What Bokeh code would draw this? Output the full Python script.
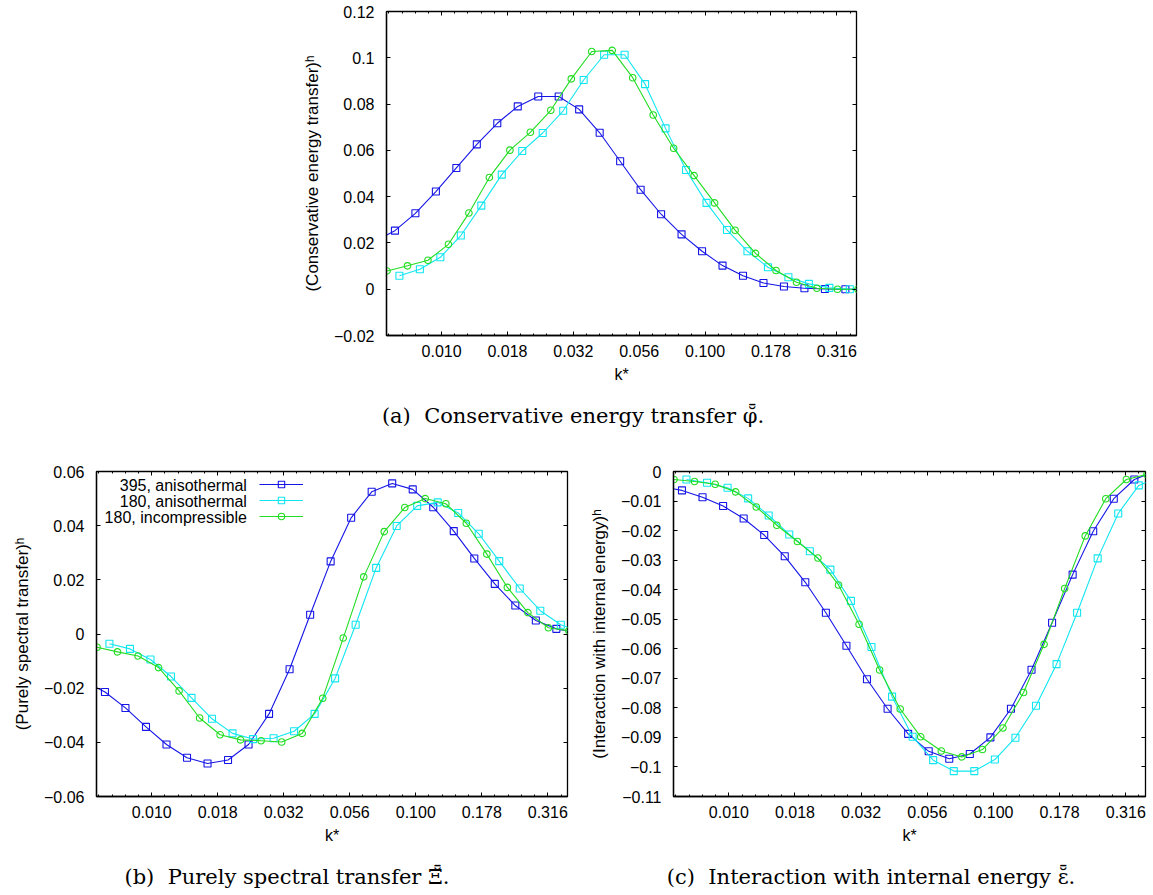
import numpy as np
from bokeh.plotting import figure
from bokeh.models import (FixedTicker, CustomJSTickFormatter, LogAxis, LinearAxis,
                          Range1d, Legend, LegendItem, Div, Label, CustomLabelingPolicy)
from bokeh.layouts import column, row
from bokeh.embed import file_html
from bokeh.resources import INLINE

# ---------------- data ----------------
k_395 = [0.005563, 0.006653, 0.007955, 0.009515, 0.011378, 0.013607, 0.016272, 0.019458,
         0.023270, 0.027826, 0.033276, 0.039811, 0.047608, 0.056931, 0.068081, 0.081414,
         0.097387, 0.116468, 0.139280, 0.166570, 0.199190, 0.238232, 0.284905, 0.340721,
         0.407445]
k_180a = [0.006918, 0.008273, 0.009894, 0.011832, 0.014150, 0.016922, 0.020237, 0.024201,
          0.028942, 0.034612, 0.041392, 0.049501, 0.059198, 0.070795, 0.084664, 0.101250,
          0.121085, 0.144806, 0.173173, 0.207098, 0.247669, 0.296188, 0.354212, 0.423602]
k_180i = [0.006209, 0.007425, 0.008880, 0.010619, 0.012700, 0.015188, 0.018163, 0.021721,
          0.025976, 0.031065, 0.037150, 0.044428, 0.053132, 0.063540, 0.075987, 0.090874,
          0.108676, 0.129965, 0.155426, 0.185873, 0.222285, 0.265832, 0.317908, 0.380186]

# (a) conservative energy transfer
phi_395 = [0.0207, 0.0253, 0.0328, 0.0422, 0.0524, 0.0626, 0.0717, 0.0790, 0.0833, 0.0833,
           0.0777, 0.0676, 0.0553, 0.0430, 0.0324, 0.0237, 0.0164, 0.0102, 0.0058, 0.0027,
           0.0012, 0.0004, 0.0001, 0.0000, 0.0000]
phi_180a = [0.0058, 0.0086, 0.0138, 0.0232, 0.0361, 0.0495, 0.0597, 0.0675, 0.0771, 0.0904,
            0.1013, 0.1013, 0.0886, 0.0695, 0.0515, 0.0373, 0.0256, 0.0164, 0.0095, 0.0052,
            0.0023, 0.0006, 0.0000, 0.0000]
phi_180i = [0.0079, 0.0101, 0.0125, 0.0194, 0.0329, 0.0483, 0.0601, 0.0678, 0.0773, 0.0909,
            0.1027, 0.1032, 0.0914, 0.0753, 0.0609, 0.0491, 0.0373, 0.0255, 0.0155, 0.0081,
            0.0030, 0.0004, 0.0000, 0.0000]

# (b) purely spectral transfer
xi_395 = [-0.0175, -0.0214, -0.0273, -0.0343, -0.0408, -0.0457, -0.0478, -0.0465, -0.0408,
          -0.0295, -0.0130, 0.0071, 0.0268, 0.0429, 0.0525, 0.0556, 0.0534, 0.0468, 0.0380,
          0.0279, 0.0185, 0.0105, 0.0050, 0.0019, 0.0005]
xi_180a = [-0.0036, -0.0055, -0.0094, -0.0157, -0.0236, -0.0313, -0.0367, -0.0388, -0.0385,
           -0.0359, -0.0295, -0.0164, 0.0034, 0.0244, 0.0399, 0.0473, 0.0486, 0.0447, 0.0370,
           0.0269, 0.0168, 0.0086, 0.0034, 0.0008]
xi_180i = [-0.0049, -0.0066, -0.0081, -0.0124, -0.0210, -0.0310, -0.0372, -0.0391, -0.0394,
           -0.0399, -0.0367, -0.0237, -0.0015, 0.0211, 0.0378, 0.0467, 0.0500, 0.0481, 0.0409,
           0.0295, 0.0172, 0.0079, 0.0023, 0.0012]

# (c) interaction with internal energy
eps_395 = [-0.0051, -0.0064, -0.0087, -0.0117, -0.0159, -0.0215, -0.0287, -0.0375, -0.0478,
           -0.0590, -0.0703, -0.0803, -0.0888, -0.0947, -0.0972, -0.0956, -0.0900, -0.0803,
           -0.0671, -0.0512, -0.0349, -0.0202, -0.0092, -0.0027, 0.0000]
eps_180a = [-0.0027, -0.0038, -0.0055, -0.0091, -0.0149, -0.0213, -0.0270, -0.0332, -0.0438,
            -0.0594, -0.0762, -0.0898, -0.0977, -0.1014, -0.1014, -0.0975, -0.0901, -0.0793,
            -0.0652, -0.0478, -0.0294, -0.0142, -0.0047, -0.0018]
eps_180i = [-0.0027, -0.0034, -0.0043, -0.0069, -0.0120, -0.0182, -0.0237, -0.0293, -0.0384,
            -0.0517, -0.0672, -0.0804, -0.0898, -0.0946, -0.0966, -0.0941, -0.0868, -0.0748,
            -0.0585, -0.0396, -0.0218, -0.0092, -0.0027, -0.0010]

series_names = ["395, anisothermal", "180, anisothermal", "180, incompressible"]
series_colors = ["#1515e6", "#10e6f0", "#22dd22"]

x_tick_values = [0.01, 0.0177828, 0.0316228, 0.0562341, 0.1, 0.1778279, 0.3162278]
x_minor_ticks = [10 ** e for e in np.arange(-2.25, -0.35, 0.05)]

y_ticks_a = [-0.02, 0.0, 0.02, 0.04, 0.06, 0.08, 0.1, 0.12]
y_ticks_b = [-0.06, -0.04, -0.02, 0.0, 0.02, 0.04, 0.06]
y_ticks_c = [-0.11, -0.1, -0.09, -0.08, -0.07, -0.06, -0.05, -0.04, -0.03, -0.02, -0.01, 0.0]

# legend text anchors (right end of text, row centres) in panel (b)
legend_text_k = 0.02294
legend_text_y = [0.0548, 0.0489, 0.0430]

XMIN, XMAX = 0.00618, 0.3755
FONT = "Liberation Sans"
FS = "16px"

xfmt_code = "return tick.toFixed(3);"
yfmt_code = """
if (Math.abs(tick) < 1e-12) { return "0"; }
const s = parseFloat(Math.abs(tick).toPrecision(6)).toString();
return (tick < 0 ? "\\u2212" : "") + s;
"""
no_labels = "return new Set();"


def make_fig(yr, yticks, ylabel, fw, fh, bl, br, bt, bb):
    p = figure(x_axis_type="log", x_range=Range1d(XMIN, XMAX), y_range=Range1d(*yr),
               frame_width=fw, frame_height=fh,
               min_border_left=bl, min_border_right=br, min_border_top=bt, min_border_bottom=bb,
               toolbar_location=None, output_backend="svg",
               background_fill_color="white", border_fill_color="white")
    p.grid.visible = False
    p.outline_line_color = "black"
    p.outline_line_width = 1.3

    xa = p.xaxis[0]
    xa.ticker = FixedTicker(ticks=x_tick_values, minor_ticks=x_minor_ticks)
    xa.formatter = CustomJSTickFormatter(code=xfmt_code)
    xa.axis_label = "k*"
    ya = p.yaxis[0]
    ya.ticker = FixedTicker(ticks=yticks)
    ya.formatter = CustomJSTickFormatter(code=yfmt_code)
    ya.axis_label = ylabel
    for ax in (xa, ya):
        ax.axis_line_color = "black"
        ax.axis_line_width = 1.3
        ax.major_tick_in = 4
        ax.major_tick_out = 0
        ax.minor_tick_in = 2
        ax.minor_tick_out = 0
        ax.major_tick_line_color = "black"
        ax.minor_tick_line_color = "black"
        ax.major_label_text_font = FONT
        ax.major_label_text_font_size = FS
        ax.major_label_text_color = "black"
        ax.axis_label_text_font = FONT
        ax.axis_label_text_font_size = FS
        ax.axis_label_text_font_style = "normal"
        ax.axis_label_text_color = "black"
    ya.minor_tick_line_color = None
    ya.axis_label_text_font_size = "17px"
    xa.major_label_standoff = 9
    xa.axis_label_standoff = 6
    ya.major_label_standoff = 12
    ya.axis_label_standoff = 9

    top = LogAxis(ticker=FixedTicker(ticks=x_tick_values, minor_ticks=x_minor_ticks),
                  axis_line_color=None, major_tick_in=4, major_tick_out=0,
                  minor_tick_in=2, minor_tick_out=0, major_label_standoff=0,
                  major_label_text_font_size="1px",
                  major_label_policy=CustomLabelingPolicy(code=no_labels))
    p.add_layout(top, "above")
    right = LinearAxis(ticker=FixedTicker(ticks=yticks), axis_line_color=None,
                       major_tick_in=4, major_tick_out=0, minor_tick_line_color=None,
                       major_label_standoff=0, major_label_text_font_size="1px",
                       major_label_policy=CustomLabelingPolicy(code=no_labels))
    p.add_layout(right, "right")
    return p


def add_series(p, ks, vals):
    rs = []
    for k, v, c, m in zip(ks, vals, series_colors, ["square", "square", "circle"]):
        lr = p.line(k, v, line_color=c, line_width=1.1)
        sr = p.scatter(k, v, marker=m, size=7 if m == "square" else 6.5,
                       line_color=c, line_width=1.1, fill_color=None)
        rs.append((lr, sr))
    return rs


ks = [k_395, k_180a, k_180i]

pa = make_fig((-0.02, 0.12), y_ticks_a, "(Conservative energy transfer)\u02b0",
              470, 324, 386, 10, 11, 57)
add_series(pa, ks, [phi_395, phi_180a, phi_180i])

pb = make_fig((-0.06, 0.06), y_ticks_b, "(Purely spectral transfer)\u02b0",
              471, 325, 96, 9, 39, 50)
rb = add_series(pb, ks, [xi_395, xi_180a, xi_180i])
items = [LegendItem(label=" ", renderers=[lr, sr]) for (lr, sr) in rb]
leg = Legend(items=items, location=(163, 272), orientation="vertical",
             glyph_width=44, glyph_height=16, label_height=16, label_width=1, spacing=0,
             padding=0, margin=0, label_standoff=0,
             label_text_font=FONT, label_text_font_size="10px",
             border_line_alpha=0, background_fill_alpha=0)
pb.add_layout(leg, "center")
for name, yv in zip(series_names, legend_text_y):
    pb.add_layout(Label(x=legend_text_k, y=yv, text=name, text_align="right",
                        text_baseline="middle", text_font=FONT, text_font_size=FS,
                        text_color="black"))

pc = make_fig((-0.11, 0.0), y_ticks_c, "(Interaction with internal energy)\u02b0",
              472, 325, 97, 8, 39, 50)
add_series(pc, ks, [eps_395, eps_180a, eps_180i])

cap_style = "font-family:'DejaVu Serif';font-size:21px;color:black;white-space:nowrap;"
cap_a = Div(text=f"<div style=\"width:1146px;text-align:center;padding-top:9px;{cap_style}\">"
                 "(a)&nbsp; Conservative energy transfer \u03c6\u0306\u0304.</div>",
            width=1153, height=40, margin=0)
cap_bc = Div(text=f"<div style=\"position:relative;width:1153px;height:40px;{cap_style}\">"
                  f"<div style=\"position:absolute;left:0px;top:16px;width:574px;text-align:center;\">"
                  "(b)&nbsp; Purely spectral transfer \u039e\u0306\u0304.</div>"
                  f"<div style=\"position:absolute;left:600px;top:16px;width:542px;text-align:center;\">"
                  "(c)&nbsp; Interaction with internal energy \u03b5\u0306\u0304.</div></div>",
             width=1153, height=40, margin=0)

layout = column(pa, cap_a, row(pb, pc), cap_bc)

with open("out.html", "w") as f:
    f.write(file_html(layout, INLINE))
